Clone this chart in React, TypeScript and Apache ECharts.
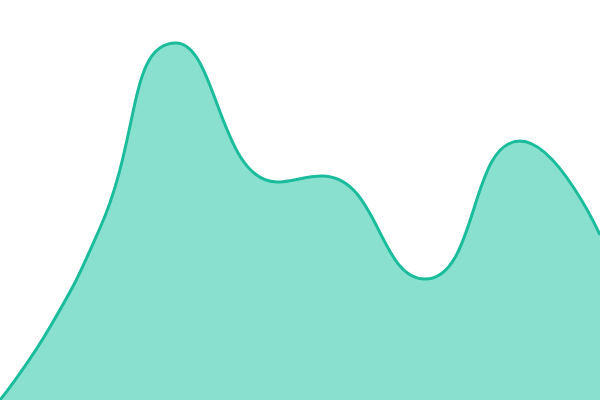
import React, { useEffect, useRef } from 'react';
import * as echarts from 'echarts';

// Horizontal position (px across the plot) of each sampled point and its level
const positions = [0, 50, 100, 176, 277, 322, 425, 520, 600];
const values = [0, 73, 172, 357, 218, 224, 121, 259, 165];

const App: React.FC = () => {
	const chartRef = useRef<HTMLDivElement>(null);

	useEffect(() => {
		if (!chartRef.current) return;
		document.body.style.margin = '0';
		const chart = echarts.init(chartRef.current, undefined, { renderer: 'svg' });

		const option: echarts.EChartsOption = {
			animation: false,
			grid: { left: 0, right: 0, top: 0, bottom: 0 },
			xAxis: {
				type: 'value',
				min: 0,
				max: 600,
				show: false
			},
			yAxis: {
				type: 'value',
				min: 0,
				max: 400,
				show: false
			},
			series: [
				{
					type: 'line',
					data: positions.map((p, i) => [p, values[i]]),
					smooth: 0.5,
					symbol: 'none',
					lineStyle: { color: '#1abc9c', width: 3 },
					areaStyle: { color: '#8ae0cf', opacity: 1 }
				}
			]
		};

		chart.setOption(option);
		return () => {
			chart.dispose();
		};
	}, []);

	return <div ref={chartRef} style={{ width: '600px', height: '400px' }} />;
};

export default App;
